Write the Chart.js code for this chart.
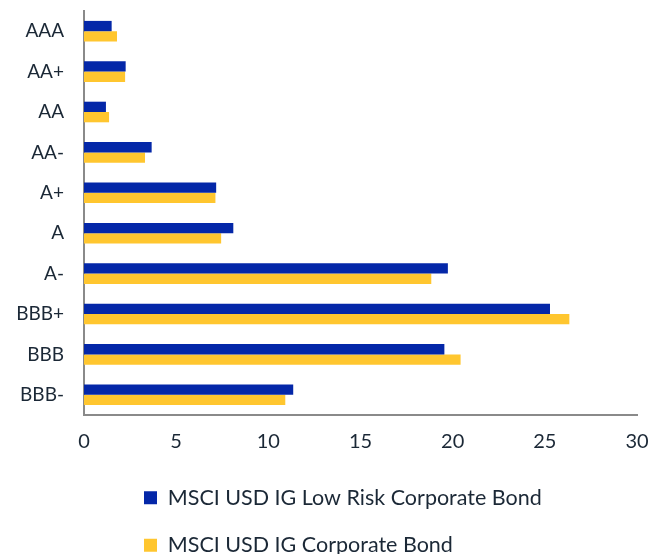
<!DOCTYPE html>
<html>
<head>
<meta charset="utf-8">
<script src="https://cdn.jsdelivr.net/npm/chart.js@4.4.1/dist/chart.umd.min.js"></script>
<style>
  html, body { margin: 0; padding: 0; background: #fff; }
  #wrap { width: 651px; height: 554px; }
</style>
</head>
<body>
<div id="wrap"><canvas id="chart"></canvas></div>
<script>
const ratings = ['AAA', 'AA+', 'AA', 'AA-', 'A+', 'A', 'A-', 'BBB+', 'BBB', 'BBB-'];
const lowRisk = [1.5, 2.26, 1.19, 3.67, 7.17, 8.1, 19.74, 25.28, 19.55, 11.35];
const corporate = [1.79, 2.23, 1.36, 3.31, 7.13, 7.44, 18.84, 26.33, 20.43, 10.92];
const xTicks = [0, 5, 10, 15, 20, 25, 30];

const textColor = '#1b2836';
const fontFamily = 'Lato, "Open Sans", sans-serif';

// shift the bottom legend so its rows start under the plot
const legendShift = {
  id: 'legendShift',
  beforeDraw(chart) {
    if (chart.legend) chart.legend.left = 118;
  }
};

new Chart(document.getElementById('chart'), {
  type: 'bar',
  data: {
    labels: ratings,
    datasets: [
      {
        label: 'MSCI USD IG Low Risk Corporate Bond',
        data: lowRisk,
        backgroundColor: '#0427a8',
        barPercentage: 1,
        categoryPercentage: 0.51,
      },
      {
        label: 'MSCI USD IG Corporate Bond',
        data: corporate,
        backgroundColor: '#ffc62f',
        barPercentage: 1,
        categoryPercentage: 0.51,
      },
    ],
  },
  plugins: [legendShift],
  options: {
    indexAxis: 'y',
    responsive: true,
    maintainAspectRatio: false,
    animation: false,
    layout: {
      padding: { left: 0, right: 14, top: 11, bottom: -12 },
    },
    plugins: {
      legend: {
        position: 'bottom',
        align: 'start',
        labels: {
          boxWidth: 13,
          boxHeight: 13,
          padding: 26,
          color: textColor,
          font: { family: fontFamily, size: 21.5 },
        },
      },
      tooltip: { enabled: false },
    },
    scales: {
      x: {
        min: 0,
        max: 30,
        afterBuildTicks: axis => {
          axis.ticks = xTicks.map(v => ({ value: v }));
        },
        afterFit: axis => {
          axis.height -= 8;
          axis.paddingLeft = 0;
          axis.paddingRight = 0;
        },
        grid: { display: false, drawTicks: false },
        border: { display: true, color: '#8a8a8a', width: 2 },
        ticks: {
          padding: 15,
          color: textColor,
          font: { family: fontFamily, size: 20 },
        },
      },
      y: {
        afterFit: axis => {
          axis.width = 84;
          axis.paddingTop = 0;
          axis.paddingBottom = 0;
        },
        grid: { display: false, drawTicks: false },
        border: { display: true, color: '#8a8a8a', width: 2 },
        ticks: {
          padding: 20,
          color: textColor,
          font: { family: fontFamily, size: 19 },
        },
      },
    },
  },
});
</script>
</body>
</html>
